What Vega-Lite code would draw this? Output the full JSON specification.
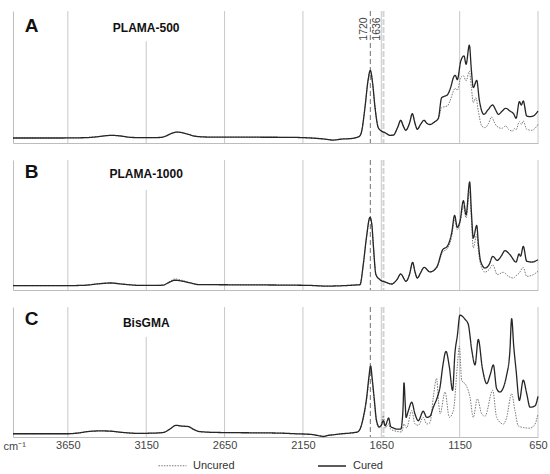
{
"$schema": "https://vega.github.io/schema/vega-lite/v6.json",
"padding": {"left": 3, "top": 10, "right": 0, "bottom": 0},
"spacing": 15,
"datasets": {
"grid": [{"w":3650},{"w":2650},{"w":2150},{"w":1650},{"w":1150},{"w":650}],
"peaks": [{"w":1720},{"w":1636}],
"labels": [{"p":"A","l":"A","t":"PLAMA-500"},{"p":"B","l":"B","t":"PLAMA-1000"},{"p":"C","l":"C","t":"BisGMA"}],
"spectra": [
{"p":"A","w":4000,"Cured":0.038,"Uncured":0.038},
{"p":"A","w":3700,"Cured":0.038,"Uncured":0.038},
{"p":"A","w":3550,"Cured":0.04,"Uncured":0.04},
{"p":"A","w":3480,"Cured":0.045,"Uncured":0.045},
{"p":"A","w":3400,"Cured":0.056,"Uncured":0.056},
{"p":"A","w":3370,"Cured":0.058,"Uncured":0.058},
{"p":"A","w":3320,"Cured":0.054,"Uncured":0.054},
{"p":"A","w":3240,"Cured":0.042,"Uncured":0.042},
{"p":"A","w":3150,"Cured":0.04,"Uncured":0.04},
{"p":"A","w":3060,"Cured":0.042,"Uncured":0.042},
{"p":"A","w":3020,"Cured":0.055,"Uncured":0.055},
{"p":"A","w":2990,"Cured":0.072,"Uncured":0.072},
{"p":"A","w":2955,"Cured":0.083,"Uncured":0.083},
{"p":"A","w":2920,"Cured":0.078,"Uncured":0.078},
{"p":"A","w":2880,"Cured":0.065,"Uncured":0.065},
{"p":"A","w":2830,"Cured":0.05,"Uncured":0.05},
{"p":"A","w":2750,"Cured":0.045,"Uncured":0.045},
{"p":"A","w":2500,"Cured":0.044,"Uncured":0.044},
{"p":"A","w":2250,"Cured":0.043,"Uncured":0.043},
{"p":"A","w":2100,"Cured":0.038,"Uncured":0.038},
{"p":"A","w":2000,"Cured":0.028,"Uncured":0.028},
{"p":"A","w":1960,"Cured":0.022,"Uncured":0.022},
{"p":"A","w":1900,"Cured":0.03,"Uncured":0.03},
{"p":"A","w":1840,"Cured":0.034,"Uncured":0.034},
{"p":"A","w":1800,"Cured":0.045,"Uncured":0.045},
{"p":"A","w":1790,"Cured":0.05,"Uncured":0.05},
{"p":"A","w":1775,"Cured":0.09,"Uncured":0.09},
{"p":"A","w":1754,"Cured":0.27,"Uncured":0.27},
{"p":"A","w":1735,"Cured":0.47,"Uncured":0.47},
{"p":"A","w":1720,"Cured":0.55,"Uncured":0.55},
{"p":"A","w":1705,"Cured":0.45,"Uncured":0.45},
{"p":"A","w":1690,"Cured":0.27,"Uncured":0.27},
{"p":"A","w":1669,"Cured":0.116,"Uncured":0.116},
{"p":"A","w":1648,"Cured":0.09,"Uncured":0.09},
{"p":"A","w":1626,"Cured":0.078,"Uncured":0.078},
{"p":"A","w":1594,"Cured":0.058,"Uncured":0.058},
{"p":"A","w":1573,"Cured":0.06,"Uncured":0.06},
{"p":"A","w":1545,"Cured":0.12,"Uncured":0.12},
{"p":"A","w":1526,"Cured":0.172,"Uncured":0.172},
{"p":"A","w":1510,"Cured":0.13,"Uncured":0.13},
{"p":"A","w":1494,"Cured":0.096,"Uncured":0.096},
{"p":"A","w":1470,"Cured":0.15,"Uncured":0.15},
{"p":"A","w":1452,"Cured":0.222,"Uncured":0.222},
{"p":"A","w":1435,"Cured":0.15,"Uncured":0.15},
{"p":"A","w":1420,"Cured":0.104,"Uncured":0.104},
{"p":"A","w":1400,"Cured":0.14,"Uncured":0.14},
{"p":"A","w":1377,"Cured":0.172,"Uncured":0.172},
{"p":"A","w":1360,"Cured":0.15,"Uncured":0.15},
{"p":"A","w":1339,"Cured":0.14,"Uncured":0.14},
{"p":"A","w":1310,"Cured":0.16,"Uncured":0.16},
{"p":"A","w":1286,"Cured":0.187,"Uncured":0.18},
{"p":"A","w":1265,"Cured":0.343,"Uncured":0.268},
{"p":"A","w":1245,"Cured":0.355,"Uncured":0.275},
{"p":"A","w":1229,"Cured":0.364,"Uncured":0.28},
{"p":"A","w":1205,"Cured":0.43,"Uncured":0.34},
{"p":"A","w":1190,"Cured":0.495,"Uncured":0.394},
{"p":"A","w":1178,"Cured":0.513,"Uncured":0.414},
{"p":"A","w":1165,"Cured":0.48,"Uncured":0.4},
{"p":"A","w":1143,"Cured":0.62,"Uncured":0.495},
{"p":"A","w":1126,"Uncured":0.51},
{"p":"A","w":1122,"Cured":0.66},
{"p":"A","w":1109,"Cured":0.596,"Uncured":0.47},
{"p":"A","w":1088,"Cured":0.742,"Uncured":0.545},
{"p":"A","w":1075,"Cured":0.55,"Uncured":0.42},
{"p":"A","w":1063,"Cured":0.42,"Uncured":0.305},
{"p":"A","w":1046,"Uncured":0.343},
{"p":"A","w":1041,"Cured":0.475},
{"p":"A","w":1031,"Uncured":0.242},
{"p":"A","w":1025,"Cured":0.33},
{"p":"A","w":1009,"Cured":0.242,"Uncured":0.129},
{"p":"A","w":995,"Cured":0.217},
{"p":"A","w":988,"Uncured":0.116},
{"p":"A","w":970,"Cured":0.25},
{"p":"A","w":965,"Uncured":0.15},
{"p":"A","w":946,"Uncured":0.197},
{"p":"A","w":939,"Cured":0.288},
{"p":"A","w":930,"Uncured":0.16},
{"p":"A","w":920,"Cured":0.25},
{"p":"A","w":914,"Uncured":0.129},
{"p":"A","w":903,"Cured":0.217},
{"p":"A","w":882,"Uncured":0.111},
{"p":"A","w":880,"Cured":0.24},
{"p":"A","w":856,"Cured":0.263,"Uncured":0.129},
{"p":"A","w":835,"Uncured":0.1},
{"p":"A","w":829,"Cured":0.242},
{"p":"A","w":812,"Uncured":0.091},
{"p":"A","w":805,"Cured":0.22},
{"p":"A","w":800,"Uncured":0.11},
{"p":"A","w":790,"Cured":0.187,"Uncured":0.1},
{"p":"A","w":769,"Cured":0.313,"Uncured":0.162},
{"p":"A","w":756,"Cured":0.288,"Uncured":0.14},
{"p":"A","w":744,"Cured":0.318,"Uncured":0.167},
{"p":"A","w":722,"Cured":0.205,"Uncured":0.104},
{"p":"A","w":700,"Cured":0.2},
{"p":"A","w":690,"Uncured":0.096},
{"p":"A","w":680,"Cured":0.205},
{"p":"A","w":670,"Uncured":0.11},
{"p":"A","w":650,"Cured":0.242,"Uncured":0.141},
{"p":"B","w":4000,"Cured":0.033,"Uncured":0.033},
{"p":"B","w":3700,"Cured":0.033,"Uncured":0.033},
{"p":"B","w":3550,"Cured":0.036,"Uncured":0.036},
{"p":"B","w":3450,"Cured":0.048,"Uncured":0.048},
{"p":"B","w":3380,"Cured":0.054,"Uncured":0.054},
{"p":"B","w":3300,"Cured":0.045,"Uncured":0.045},
{"p":"B","w":3200,"Cured":0.036,"Uncured":0.036},
{"p":"B","w":3100,"Cured":0.035,"Uncured":0.035},
{"p":"B","w":3040,"Cured":0.038,"Uncured":0.038},
{"p":"B","w":3010,"Cured":0.055,"Uncured":0.058},
{"p":"B","w":2966,"Cured":0.075,"Uncured":0.085},
{"p":"B","w":2920,"Cured":0.068,"Uncured":0.074},
{"p":"B","w":2870,"Cured":0.055,"Uncured":0.055},
{"p":"B","w":2820,"Cured":0.042,"Uncured":0.042},
{"p":"B","w":2600,"Cured":0.04,"Uncured":0.04},
{"p":"B","w":2300,"Cured":0.038,"Uncured":0.038},
{"p":"B","w":2100,"Cured":0.035,"Uncured":0.035},
{"p":"B","w":2000,"Cured":0.03,"Uncured":0.03},
{"p":"B","w":1900,"Cured":0.033,"Uncured":0.033},
{"p":"B","w":1820,"Cured":0.038,"Uncured":0.038},
{"p":"B","w":1786,"Cured":0.041,"Uncured":0.041},
{"p":"B","w":1765,"Cured":0.195,"Uncured":0.195},
{"p":"B","w":1745,"Cured":0.4,"Uncured":0.4},
{"p":"B","w":1722,"Cured":0.559,"Uncured":0.559},
{"p":"B","w":1710,"Cured":0.5,"Uncured":0.5},
{"p":"B","w":1701,"Cured":0.349,"Uncured":0.349},
{"p":"B","w":1684,"Cured":0.118,"Uncured":0.118},
{"p":"B","w":1658,"Cured":0.079,"Uncured":0.079},
{"p":"B","w":1626,"Cured":0.062,"Uncured":0.062},
{"p":"B","w":1584,"Cured":0.046,"Uncured":0.046},
{"p":"B","w":1550,"Cured":0.08,"Uncured":0.08},
{"p":"B","w":1526,"Cured":0.123,"Uncured":0.123},
{"p":"B","w":1492,"Cured":0.067,"Uncured":0.067},
{"p":"B","w":1470,"Cured":0.12,"Uncured":0.12},
{"p":"B","w":1450,"Cured":0.213,"Uncured":0.213},
{"p":"B","w":1435,"Cured":0.14,"Uncured":0.14},
{"p":"B","w":1420,"Cured":0.092,"Uncured":0.092},
{"p":"B","w":1400,"Cured":0.13,"Uncured":0.13},
{"p":"B","w":1377,"Cured":0.174,"Uncured":0.174},
{"p":"B","w":1339,"Cured":0.139,"Uncured":0.139},
{"p":"B","w":1297,"Cured":0.174,"Uncured":0.17},
{"p":"B","w":1258,"Cured":0.31,"Uncured":0.292},
{"p":"B","w":1229,"Cured":0.336,"Uncured":0.318},
{"p":"B","w":1201,"Cured":0.438,"Uncured":0.41},
{"p":"B","w":1182,"Cured":0.574,"Uncured":0.541},
{"p":"B","w":1165,"Cured":0.482,"Uncured":0.464},
{"p":"B","w":1148,"Cured":0.528,"Uncured":0.515},
{"p":"B","w":1126,"Cured":0.687,"Uncured":0.644},
{"p":"B","w":1109,"Cured":0.579,"Uncured":0.554},
{"p":"B","w":1086,"Cured":0.831,"Uncured":0.759},
{"p":"B","w":1075,"Cured":0.6,"Uncured":0.55},
{"p":"B","w":1063,"Cured":0.4,"Uncured":0.323},
{"p":"B","w":1041,"Cured":0.497,"Uncured":0.426},
{"p":"B","w":1030,"Cured":0.35,"Uncured":0.3},
{"p":"B","w":1016,"Cured":0.221,"Uncured":0.195},
{"p":"B","w":988,"Cured":0.169,"Uncured":0.138},
{"p":"B","w":960,"Cured":0.2,"Uncured":0.16},
{"p":"B","w":939,"Cured":0.259,"Uncured":0.195},
{"p":"B","w":910,"Cured":0.228,"Uncured":0.118},
{"p":"B","w":885,"Cured":0.26},
{"p":"B","w":871,"Uncured":0.136},
{"p":"B","w":861,"Cured":0.303},
{"p":"B","w":839,"Uncured":0.105},
{"p":"B","w":829,"Cured":0.272},
{"p":"B","w":807,"Uncured":0.092},
{"p":"B","w":790,"Cured":0.215,"Uncured":0.11},
{"p":"B","w":771,"Cured":0.277},
{"p":"B","w":770,"Uncured":0.13},
{"p":"B","w":761,"Cured":0.26},
{"p":"B","w":744,"Cured":0.336,"Uncured":0.174},
{"p":"B","w":722,"Cured":0.221,"Uncured":0.105},
{"p":"B","w":690,"Cured":0.215},
{"p":"B","w":680,"Uncured":0.118},
{"p":"B","w":650,"Cured":0.233,"Uncured":0.144},
{"p":"C","w":4000,"Cured":0.025,"Uncured":0.025},
{"p":"C","w":3650,"Cured":0.025,"Uncured":0.025},
{"p":"C","w":3590,"Cured":0.03,"Uncured":0.03},
{"p":"C","w":3520,"Cured":0.042,"Uncured":0.042},
{"p":"C","w":3445,"Cured":0.047,"Uncured":0.047},
{"p":"C","w":3380,"Cured":0.045,"Uncured":0.045},
{"p":"C","w":3300,"Cured":0.035,"Uncured":0.035},
{"p":"C","w":3200,"Cured":0.028,"Uncured":0.028},
{"p":"C","w":3100,"Cured":0.03,"Uncured":0.03},
{"p":"C","w":3040,"Cured":0.035,"Uncured":0.035},
{"p":"C","w":3000,"Cured":0.06,"Uncured":0.06},
{"p":"C","w":2960,"Cured":0.09,"Uncured":0.088},
{"p":"C","w":2930,"Cured":0.085,"Uncured":0.083},
{"p":"C","w":2880,"Cured":0.08,"Uncured":0.078},
{"p":"C","w":2850,"Cured":0.06,"Uncured":0.06},
{"p":"C","w":2810,"Cured":0.042,"Uncured":0.042},
{"p":"C","w":2700,"Cured":0.035,"Uncured":0.035},
{"p":"C","w":2450,"Cured":0.032,"Uncured":0.032},
{"p":"C","w":2300,"Cured":0.03,"Uncured":0.03},
{"p":"C","w":2200,"Cured":0.025,"Uncured":0.025},
{"p":"C","w":2100,"Cured":0.02,"Uncured":0.02},
{"p":"C","w":2040,"Cured":0.008,"Uncured":0.008},
{"p":"C","w":2020,"Cured":0.004,"Uncured":0.004},
{"p":"C","w":1990,"Cured":0.012,"Uncured":0.012},
{"p":"C","w":1950,"Cured":0.018,"Uncured":0.018},
{"p":"C","w":1900,"Cured":0.025,"Uncured":0.025},
{"p":"C","w":1850,"Cured":0.03,"Uncured":0.03},
{"p":"C","w":1800,"Cured":0.04,"Uncured":0.04},
{"p":"C","w":1786,"Cured":0.06,"Uncured":0.06},
{"p":"C","w":1765,"Cured":0.15,"Uncured":0.14},
{"p":"C","w":1743,"Cured":0.307,"Uncured":0.29},
{"p":"C","w":1730,"Cured":0.45,"Uncured":0.43},
{"p":"C","w":1718,"Cured":0.547,"Uncured":0.529},
{"p":"C","w":1708,"Cured":0.45,"Uncured":0.43},
{"p":"C","w":1696,"Cured":0.307,"Uncured":0.29},
{"p":"C","w":1680,"Cured":0.125,"Uncured":0.11},
{"p":"C","w":1663,"Cured":0.078,"Uncured":0.07},
{"p":"C","w":1650,"Cured":0.09,"Uncured":0.09},
{"p":"C","w":1637,"Cured":0.125,"Uncured":0.164},
{"p":"C","w":1625,"Cured":0.086,"Uncured":0.07},
{"p":"C","w":1603,"Cured":0.146,"Uncured":0.1},
{"p":"C","w":1590,"Cured":0.08,"Uncured":0.06},
{"p":"C","w":1573,"Cured":0.07,"Uncured":0.05},
{"p":"C","w":1552,"Cured":0.06},
{"p":"C","w":1526,"Cured":0.06},
{"p":"C","w":1520,"Uncured":0.039},
{"p":"C","w":1512,"Cured":0.2},
{"p":"C","w":1505,"Cured":0.417,"Uncured":0.1},
{"p":"C","w":1497,"Cured":0.25},
{"p":"C","w":1492,"Cured":0.151},
{"p":"C","w":1488,"Uncured":0.07},
{"p":"C","w":1477,"Cured":0.203},
{"p":"C","w":1456,"Cured":0.268,"Uncured":0.203},
{"p":"C","w":1435,"Cured":0.177,"Uncured":0.1},
{"p":"C","w":1414,"Cured":0.125,"Uncured":0.09},
{"p":"C","w":1382,"Cured":0.198,"Uncured":0.151},
{"p":"C","w":1360,"Cured":0.151,"Uncured":0.1},
{"p":"C","w":1339,"Cured":0.16,"Uncured":0.11},
{"p":"C","w":1318,"Cured":0.229,"Uncured":0.307},
{"p":"C","w":1297,"Uncured":0.451},
{"p":"C","w":1292,"Cured":0.307},
{"p":"C","w":1285,"Uncured":0.28},
{"p":"C","w":1275,"Cured":0.385,"Uncured":0.177},
{"p":"C","w":1258,"Cured":0.542},
{"p":"C","w":1243,"Uncured":0.346},
{"p":"C","w":1237,"Cured":0.659},
{"p":"C","w":1216,"Cured":0.542,"Uncured":0.151},
{"p":"C","w":1195,"Cured":0.359},
{"p":"C","w":1190,"Uncured":0.203},
{"p":"C","w":1180,"Cured":0.646},
{"p":"C","w":1165,"Cured":0.776,"Uncured":0.542},
{"p":"C","w":1152,"Uncured":0.698},
{"p":"C","w":1148,"Cured":0.9375},
{"p":"C","w":1137,"Uncured":0.4375},
{"p":"C","w":1116,"Cured":0.906},
{"p":"C","w":1109,"Uncured":0.398},
{"p":"C","w":1095,"Cured":0.867},
{"p":"C","w":1084,"Uncured":0.307},
{"p":"C","w":1073,"Cured":0.672},
{"p":"C","w":1063,"Uncured":0.151},
{"p":"C","w":1052,"Cured":0.555},
{"p":"C","w":1037,"Uncured":0.294},
{"p":"C","w":1031,"Cured":0.75},
{"p":"C","w":1009,"Uncured":0.177},
{"p":"C","w":1005,"Cured":0.529},
{"p":"C","w":988,"Uncured":0.16},
{"p":"C","w":977,"Cured":0.411},
{"p":"C","w":955,"Cured":0.48},
{"p":"C","w":939,"Uncured":0.359},
{"p":"C","w":935,"Cured":0.555},
{"p":"C","w":914,"Cured":0.372,"Uncured":0.151},
{"p":"C","w":893,"Cured":0.346},
{"p":"C","w":871,"Uncured":0.099},
{"p":"C","w":850,"Cured":0.477,"Uncured":0.151},
{"p":"C","w":830,"Cured":0.65},
{"p":"C","w":818,"Cured":0.911,"Uncured":0.333},
{"p":"C","w":805,"Cured":0.7},
{"p":"C","w":797,"Uncured":0.203},
{"p":"C","w":790,"Cured":0.516},
{"p":"C","w":776,"Uncured":0.086},
{"p":"C","w":769,"Cured":0.281},
{"p":"C","w":744,"Cured":0.4375,"Uncured":0.073},
{"p":"C","w":722,"Cured":0.333},
{"p":"C","w":701,"Cured":0.229,"Uncured":0.068},
{"p":"C","w":669,"Cured":0.24,"Uncured":0.099},
{"p":"C","w":650,"Cured":0.3125,"Uncured":0.177}
]
},
"vconcat": [
{
"width": 525, "height": 132,
"layer": [
{"data":{"name":"grid"},"mark":{"type":"rule","color":"#c8c8c8","strokeWidth":1},"encoding":{"x":{"field":"w","type":"quantitative","title":null,"scale":{"domain":[4000,650],"nice":false,"zero":false}}}},
{"data":{"values":[{}]},"mark":{"type":"rule","color":"#c8c8c8","strokeWidth":1},"encoding":{"x":{"datum":3150,"type":"quantitative"},"y":{"datum":0,"type":"quantitative","scale":{"domain":[0,1],"nice":false}},"y2":{"datum":0.77}}},
{"data":{"values":[{}]},"mark":{"type":"rule","color":"#d2d2d2","strokeWidth":2,"strokeDash":[6,2]},"encoding":{"x":{"datum":1636,"type":"quantitative"}}},
{"data":{"values":[{}]},"mark":{"type":"rule","color":"#707070","strokeWidth":1,"strokeDash":[5,3]},"encoding":{"x":{"datum":1720,"type":"quantitative"}}},
{"data":{"name":"spectra"},"transform":[{"filter":"datum.p==='A'"},{"fold":["Uncured","Cured"],"as":["s","a"]},{"filter":"isValid(datum.a)"}],
"mark":{"type":"line","interpolate":"monotone"},
"encoding":{
"x":{"field":"w","type":"quantitative","scale":{"domain":[4000,650],"nice":false,"zero":false},"axis":{"labels":false,"ticks":false,"grid":false,"title":null,"domainColor":"#bdbdbd"}},
"y":{"field":"a","type":"quantitative","scale":{"domain":[0,1],"nice":false},"axis":{"labels":false,"ticks":false,"grid":false,"title":null,"domainColor":"#bdbdbd"}},
"color":{"field":"s","type":"nominal","scale":{"domain":["Uncured","Cured"],"range":["#7a7a7a","#262626"]},"legend":{"title":null,"orient":"none","legendX":145,"legendY":440,"direction":"horizontal","symbolType":"stroke","symbolSize":784,"labelFontSize":11,"labelColor":"#333","columnPadding":80,"labelOffset":6,"padding":0}},
"strokeDash":{"field":"s","type":"nominal","scale":{"domain":["Uncured","Cured"],"range":[[1.5,1.2],[1,0]]},"legend":{"title":null,"orient":"none","legendX":145,"legendY":440,"direction":"horizontal","symbolType":"stroke","symbolSize":784,"labelFontSize":11,"labelColor":"#333","columnPadding":80,"labelOffset":6,"padding":0}},
"strokeWidth":{"field":"s","type":"nominal","scale":{"domain":["Uncured","Cured"],"range":[1,1.3]},"legend":{"title":null,"orient":"none","legendX":145,"legendY":440,"direction":"horizontal","symbolType":"stroke","symbolSize":784,"labelFontSize":11,"labelColor":"#333","columnPadding":80,"labelOffset":6,"padding":0}}
}},
{"data":{"name":"labels"},"transform":[{"filter":"datum.p==='A'"}],"mark":{"type":"text","align":"left","baseline":"middle","fontSize":19,"fontWeight":"bold","color":"#111"},"encoding":{"x":{"datum":3925,"type":"quantitative"},"y":{"datum":0.885,"type":"quantitative"},"text":{"field":"l","type":"nominal"}}},
{"data":{"name":"labels"},"transform":[{"filter":"datum.p==='A'"}],"mark":{"type":"text","align":"center","baseline":"middle","fontSize":12,"fontWeight":"bold","color":"#111"},"encoding":{"x":{"datum":3150,"type":"quantitative"},"y":{"datum":0.87,"type":"quantitative"},"text":{"field":"t","type":"nominal"}}},
{"data":{"name":"peaks"},"mark":{"type":"text","angle":270,"align":"left","baseline":"bottom","fontSize":10.5,"color":"#444","dy":-1},"encoding":{"x":{"field":"w","type":"quantitative"},"y":{"datum":0.775,"type":"quantitative"},"text":{"field":"w","type":"nominal"}}}
]
},
{
"width": 525, "height": 130,
"layer": [
{"data":{"name":"grid"},"mark":{"type":"rule","color":"#c8c8c8","strokeWidth":1},"encoding":{"x":{"field":"w","type":"quantitative","title":null,"scale":{"domain":[4000,650],"nice":false,"zero":false}}}},
{"data":{"values":[{}]},"mark":{"type":"rule","color":"#c8c8c8","strokeWidth":1},"encoding":{"x":{"datum":3150,"type":"quantitative"},"y":{"datum":0,"type":"quantitative","scale":{"domain":[0,1],"nice":false}},"y2":{"datum":0.77}}},
{"data":{"values":[{}]},"mark":{"type":"rule","color":"#d2d2d2","strokeWidth":2,"strokeDash":[6,2]},"encoding":{"x":{"datum":1636,"type":"quantitative"}}},
{"data":{"values":[{}]},"mark":{"type":"rule","color":"#707070","strokeWidth":1,"strokeDash":[5,3]},"encoding":{"x":{"datum":1720,"type":"quantitative"}}},
{"data":{"name":"spectra"},"transform":[{"filter":"datum.p==='B'"},{"fold":["Uncured","Cured"],"as":["s","a"]},{"filter":"isValid(datum.a)"}],
"mark":{"type":"line","interpolate":"monotone"},
"encoding":{
"x":{"field":"w","type":"quantitative","scale":{"domain":[4000,650],"nice":false,"zero":false},"axis":{"labels":false,"ticks":false,"grid":false,"title":null,"domainColor":"#bdbdbd"}},
"y":{"field":"a","type":"quantitative","scale":{"domain":[0,1],"nice":false},"axis":{"labels":false,"ticks":false,"grid":false,"title":null,"domainColor":"#bdbdbd"}},
"color":{"field":"s","type":"nominal","scale":{"domain":["Uncured","Cured"],"range":["#7a7a7a","#262626"]},"legend":{"title":null,"orient":"none","legendX":145,"legendY":440,"direction":"horizontal","symbolType":"stroke","symbolSize":784,"labelFontSize":11,"labelColor":"#333","columnPadding":80,"labelOffset":6,"padding":0}},
"strokeDash":{"field":"s","type":"nominal","scale":{"domain":["Uncured","Cured"],"range":[[1.5,1.2],[1,0]]},"legend":{"title":null,"orient":"none","legendX":145,"legendY":440,"direction":"horizontal","symbolType":"stroke","symbolSize":784,"labelFontSize":11,"labelColor":"#333","columnPadding":80,"labelOffset":6,"padding":0}},
"strokeWidth":{"field":"s","type":"nominal","scale":{"domain":["Uncured","Cured"],"range":[1,1.3]},"legend":{"title":null,"orient":"none","legendX":145,"legendY":440,"direction":"horizontal","symbolType":"stroke","symbolSize":784,"labelFontSize":11,"labelColor":"#333","columnPadding":80,"labelOffset":6,"padding":0}}
}},
{"data":{"name":"labels"},"transform":[{"filter":"datum.p==='B'"}],"mark":{"type":"text","align":"left","baseline":"middle","fontSize":19,"fontWeight":"bold","color":"#111"},"encoding":{"x":{"datum":3925,"type":"quantitative"},"y":{"datum":0.91,"type":"quantitative"},"text":{"field":"l","type":"nominal"}}},
{"data":{"name":"labels"},"transform":[{"filter":"datum.p==='B'"}],"mark":{"type":"text","align":"center","baseline":"middle","fontSize":12,"fontWeight":"bold","color":"#111"},"encoding":{"x":{"datum":3150,"type":"quantitative"},"y":{"datum":0.89,"type":"quantitative"},"text":{"field":"t","type":"nominal"}}}
]
},
{
"width": 525, "height": 130,
"layer": [
{"data":{"name":"grid"},"mark":{"type":"rule","color":"#c8c8c8","strokeWidth":1},"encoding":{"x":{"field":"w","type":"quantitative","title":"cm⁻¹","scale":{"domain":[4000,650],"nice":false,"zero":false}}}},
{"data":{"values":[{}]},"mark":{"type":"rule","color":"#c8c8c8","strokeWidth":1},"encoding":{"x":{"datum":3150,"type":"quantitative"},"y":{"datum":0,"type":"quantitative","scale":{"domain":[0,1],"nice":false}},"y2":{"datum":0.77}}},
{"data":{"values":[{}]},"mark":{"type":"rule","color":"#d2d2d2","strokeWidth":2,"strokeDash":[6,2]},"encoding":{"x":{"datum":1636,"type":"quantitative"}}},
{"data":{"values":[{}]},"mark":{"type":"rule","color":"#707070","strokeWidth":1,"strokeDash":[5,3]},"encoding":{"x":{"datum":1720,"type":"quantitative"}}},
{"data":{"name":"spectra"},"transform":[{"filter":"datum.p==='C'"},{"fold":["Uncured","Cured"],"as":["s","a"]},{"filter":"isValid(datum.a)"}],
"mark":{"type":"line","interpolate":"monotone"},
"encoding":{
"x":{"field":"w","type":"quantitative","title":"cm⁻¹","scale":{"domain":[4000,650],"nice":false,"zero":false},"axis":{"values":[3650,3150,2650,2150,1650,1150,650],"format":"d","labels":true,"labelFlush":false,"ticks":false,"grid":false,"labelFontSize":11,"labelColor":"#444","labelPadding":2,"titleX":-10,"titleY":9,"titleAlign":"left","titleBaseline":"middle","titleAngle":0,"titleFontSize":11,"titleFontWeight":"normal","titleColor":"#444","domainColor":"#bdbdbd"}},
"y":{"field":"a","type":"quantitative","scale":{"domain":[0,1],"nice":false},"axis":{"labels":false,"ticks":false,"grid":false,"title":null,"domainColor":"#bdbdbd"}},
"color":{"field":"s","type":"nominal","scale":{"domain":["Uncured","Cured"],"range":["#7a7a7a","#262626"]},"legend":{"title":null,"orient":"none","legendX":145,"legendY":440,"direction":"horizontal","symbolType":"stroke","symbolSize":784,"labelFontSize":11,"labelColor":"#333","columnPadding":80,"labelOffset":6,"padding":0}},
"strokeDash":{"field":"s","type":"nominal","scale":{"domain":["Uncured","Cured"],"range":[[1.5,1.2],[1,0]]},"legend":{"title":null,"orient":"none","legendX":145,"legendY":440,"direction":"horizontal","symbolType":"stroke","symbolSize":784,"labelFontSize":11,"labelColor":"#333","columnPadding":80,"labelOffset":6,"padding":0}},
"strokeWidth":{"field":"s","type":"nominal","scale":{"domain":["Uncured","Cured"],"range":[1,1.3]},"legend":{"title":null,"orient":"none","legendX":145,"legendY":440,"direction":"horizontal","symbolType":"stroke","symbolSize":784,"labelFontSize":11,"labelColor":"#333","columnPadding":80,"labelOffset":6,"padding":0}}
}},
{"data":{"name":"labels"},"transform":[{"filter":"datum.p==='C'"}],"mark":{"type":"text","align":"left","baseline":"middle","fontSize":19,"fontWeight":"bold","color":"#111"},"encoding":{"x":{"datum":3925,"type":"quantitative"},"y":{"datum":0.91,"type":"quantitative"},"text":{"field":"l","type":"nominal"}}},
{"data":{"name":"labels"},"transform":[{"filter":"datum.p==='C'"}],"mark":{"type":"text","align":"center","baseline":"middle","fontSize":12,"fontWeight":"bold","color":"#111"},"encoding":{"x":{"datum":3150,"type":"quantitative"},"y":{"datum":0.88,"type":"quantitative"},"text":{"field":"t","type":"nominal"}}}
]
}
],
"resolve": {"scale": {"color":"shared","strokeDash":"shared","strokeWidth":"shared"}, "legend": {"color":"shared","strokeDash":"shared","strokeWidth":"shared"}},
"config": {"font":"Liberation Sans","view":{"stroke":null},"axis":{"domainColor":"#bdbdbd","domainWidth":1}}
}
